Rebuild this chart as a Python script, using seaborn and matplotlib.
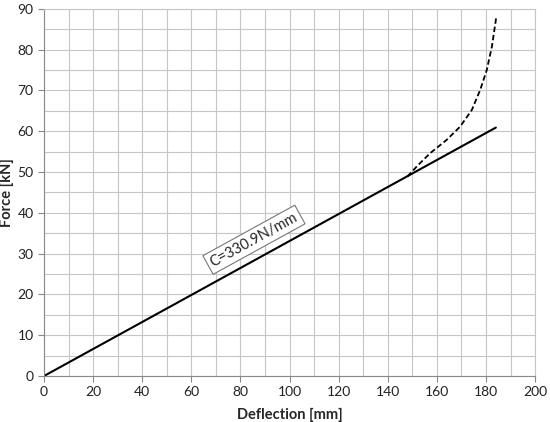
import numpy as np
import pandas as pd
import matplotlib.pyplot as plt
import seaborn as sns
from matplotlib.ticker import MultipleLocator

sns.set_style("white")
plt.rcParams['font.family'] = ['Lato', 'DejaVu Sans']
_fontsize = 10

# linear stiffness line
lin_x = [0, 184]
lin_y = [0, 60.9]
# measured (dashed) branch
meas_x = [148.0, 152.0, 157.2, 164.0, 169.4, 174.2, 177.6, 180.3, 182.4, 184.1]
meas_y = [48.9, 51.5, 54.6, 57.9, 61.1, 65.2, 70.1, 75.0, 80.8, 87.7]
label = "C=330.9N/mm"

lin = pd.DataFrame({"Deflection": lin_x, "Force": lin_y})
meas = pd.DataFrame({"Deflection": meas_x, "Force": meas_y})

fig = plt.figure(figsize=(5.5, 4.22), dpi=100)
ax = fig.add_axes([0.08, 0.109, 0.893, 0.870])

sns.lineplot(x="Deflection", y="Force", data=lin, color="black", lw=1.5, ax=ax)
sns.lineplot(x="Deflection", y="Force", data=meas, color="black", lw=1.3,
             linestyle=(0, (3, 1.6)), ax=ax)

ax.set_xlim(0, 200)
ax.set_ylim(0, 90)
ax.xaxis.set_major_locator(MultipleLocator(20))
ax.xaxis.set_minor_locator(MultipleLocator(10))
ax.yaxis.set_major_locator(MultipleLocator(10))
ax.yaxis.set_minor_locator(MultipleLocator(5))
ax.grid(which="both", color="#c6c6c6", lw=0.8)
ax.set_axisbelow(True)
for s in ax.spines.values():
    s.set_color("#c6c6c6")
ax.spines["left"].set_color("#888888")
ax.spines["bottom"].set_color("#888888")
ax.tick_params(which="both", direction="out", length=4, color="#888888",
               labelsize=_fontsize, labelcolor="#222222", left=True, bottom=True)
ax.tick_params(which="minor", length=0)

ax.set_xlabel("Deflection [mm]", fontsize=10.5, fontweight="bold")
ax.set_ylabel("Force [kN]", fontsize=10.5, fontweight="bold")
ax.yaxis.set_label_coords(-0.062, 0.5)
ax.xaxis.set_label_coords(0.5, -0.087)

ax.text(85.5, 33.4, label, rotation=28.8, ha="center", va="center",
        fontsize=10.5,
        bbox=dict(boxstyle="square,pad=0.25", fc="white", ec="#777777", lw=0.8))

fig.savefig("out.png", dpi=100)
